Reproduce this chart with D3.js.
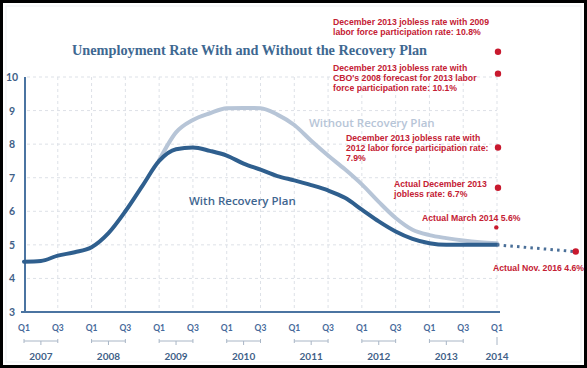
<!DOCTYPE html>
<html><head><meta charset="utf-8">
<script src="https://cdn.jsdelivr.net/npm/d3@7"></script>
<style>html,body{margin:0;padding:0;background:#fff;}svg{display:block;}</style>
</head><body>
<svg id="c" width="587" height="368"></svg>
<script>
// ---- data ----
const quarters = d3.range(0, 29); // Q1 2007 .. Q1 2014
const withPlan = [4.5,4.52,4.68,4.78,4.93,5.35,6.0,6.75,7.5,7.85,7.9,7.8,7.66,7.42,7.24,7.05,6.92,6.78,6.62,6.4,6.05,5.7,5.4,5.18,5.05,5.0,5.0,5.0,5.0];
const withoutStart = 8;
const withoutPlan = [7.52,8.35,8.72,8.92,9.07,9.08,9.07,8.88,8.57,8.1,7.66,7.25,6.8,6.28,5.8,5.45,5.29,5.2,5.13,5.08,5.05];
const yTicks = [3,4,5,6,7,8,9,10];
const years = ["2007","2008","2009","2010","2011","2012","2013","2014"];
const quarterLabels = ["Q1","Q3"];
const extension = [{q:28, v:5.0},{q:32.6, v:4.8}]; // dotted line to Nov 2016 (as drawn)
const redPoints = [
  {q:28, v:10.75, r:3.2, lines:["December 2013 jobless rate with 2009","labor force participation rate: 10.8%"], lx:333, ly:25},
  {q:28, v:10.1, r:3.2, lines:["December 2013 jobless rate with","CBO's 2008 forecast for 2013 labor","force participation rate: 10.1%"], lx:333, ly:71},
  {q:28, v:7.9, r:3.2, lines:["December 2013 jobless rate with","2012 labor force participation rate:","7.9%"], lx:346, ly:141},
  {q:28, v:6.7, r:3.2, lines:["Actual December 2013","jobless rate: 6.7%"], lx:394, ly:187},
  {q:27.9, v:5.52, r:2.2, lines:["Actual March 2014 5.6%"], lx:422, ly:221},
  {q:32.6, v:4.8, r:3.2, lines:["Actual Nov. 2016 4.6%"], lx:493, ly:271}
];

const svg = d3.select("#c");
const x = d3.scaleLinear().domain([0,28]).range([24,497]);
const y = d3.scaleLinear().domain([3,10]).range([312,77]);

// frame
svg.append("rect").attr("x",1.5).attr("y",1.5).attr("width",584).attr("height",365)
  .attr("fill","#fff").attr("stroke","#000").attr("stroke-width",3);
svg.append("rect").attr("x",6).attr("y",6).attr("width",575).attr("height",356)
  .attr("fill","none").attr("stroke","#eef0f3").attr("stroke-width",1);

// grid
const grid = svg.append("g");
yTicks.filter(t=>t>3).forEach(t=>{
  grid.append("line").attr("x1",x(0)+3).attr("x2",x(28)).attr("y1",y(t)).attr("y2",y(t))
    .attr("stroke","#dde1e7").attr("stroke-width",1).attr("stroke-dasharray","3,3");
});
d3.range(2,29,2).forEach(q=>{
  grid.append("line").attr("x1",x(q)).attr("x2",x(q)).attr("y1",y(10)).attr("y2",y(3))
    .attr("stroke","#dde1e7").attr("stroke-width",1).attr("stroke-dasharray","3,3");
});

// title
svg.append("text").attr("x",72).attr("y",55).text("Unemployment Rate With and Without the Recovery Plan")
  .attr("font-family","Liberation Serif, serif").attr("font-weight","bold").attr("font-size",14.5)
  .attr("fill","#3e6891").attr("textLength",355).attr("lengthAdjust","spacingAndGlyphs");

// y labels
yTicks.forEach(t=>{
  svg.append("text").attr("x",12).attr("y",y(t)+4).attr("text-anchor","middle").text(t)
    .attr("font-family","Lato, sans-serif").attr("font-weight","bold").attr("font-size",10.5).attr("fill","#3f6188");
});

// axes
svg.append("line").attr("x1",x(0)+1).attr("x2",x(0)+1).attr("y1",y(10)).attr("y2",y(3))
  .attr("stroke","#4b74a1").attr("stroke-width",2);
svg.append("line").attr("x1",x(0)-3).attr("x2",x(28)+3).attr("y1",y(3)).attr("y2",y(3))
  .attr("stroke","#4b74a1").attr("stroke-width",2);

// x labels
const xl = svg.append("g").attr("font-family","Lato, sans-serif").attr("font-weight","bold").attr("fill","#46699a");
quarters.filter(q=>q%2===0).forEach(q=>{
  xl.append("text").attr("x",x(q)).attr("y",331).attr("text-anchor","middle").attr("font-size",8.5)
    .text(quarterLabels[(q/2)%2]);
});
years.forEach((yr,i)=>{
  const q0 = i*4, q1 = Math.min(i*4+2, 28);
  const mid = i===7 ? x(q0) : (x(q0)+x(q1))/2;
  const br = svg.append("g").attr("stroke","#a9b6c6").attr("stroke-width",1);
  if(i<7){
    br.append("line").attr("x1",x(q0)).attr("x2",x(q1)).attr("y1",341).attr("y2",341);
    br.append("line").attr("x1",x(q0)).attr("x2",x(q0)).attr("y1",339).attr("y2",343);
    br.append("line").attr("x1",x(q1)).attr("x2",x(q1)).attr("y1",339).attr("y2",343);
    br.append("line").attr("x1",mid).attr("x2",mid).attr("y1",341).attr("y2",345);
  } else {
    br.append("line").attr("x1",mid).attr("x2",mid).attr("y1",337).attr("y2",345);
  }
  svg.append("text").attr("x",mid).attr("y",360).attr("text-anchor","middle").text(yr)
    .attr("font-family","Lato, sans-serif").attr("font-weight","bold").attr("font-size",10).attr("fill","#3f6188");
});

// lines
const line = d3.line().x(d=>x(d.q)).y(d=>y(d.v)).curve(d3.curveMonotoneX);
const wo = withoutPlan.map((v,i)=>({q:i+withoutStart, v}));
const wp = withPlan.map((v,i)=>({q:quarters[i], v}));
svg.append("path").datum(wo).attr("d",line).attr("fill","none").attr("stroke","#b7c5d7").attr("stroke-width",4).attr("stroke-linecap","round");
svg.append("path").datum(wp).attr("d",line).attr("fill","none").attr("stroke","#2f5f8e").attr("stroke-width",4).attr("stroke-linecap","round");

// dotted extension (x beyond Q1 2014 compressed as drawn)
const xe = q => q<=28 ? x(q) : x(28) + (q-28)*16.9;
svg.append("path").datum(extension).attr("d",d3.line().x(d=>xe(d.q)).y(d=>y(d.v)))
  .attr("fill","none").attr("stroke","#4a6f98").attr("stroke-width",3).attr("stroke-dasharray","2.5,4.2");

// series labels
svg.append("text").attr("x",309).attr("y",127).text("Without Recovery Plan")
  .attr("font-family","Open Sans, sans-serif").attr("font-weight",600).attr("font-size",11.5).attr("fill","#b7c5d7");
svg.append("text").attr("x",189).attr("y",205).text("With Recovery Plan")
  .attr("font-family","Open Sans, sans-serif").attr("font-weight",600).attr("font-size",11.5).attr("fill","#3f6690");

// red annotations
redPoints.forEach(p=>{
  svg.append("circle").attr("cx",xe(p.q)+1).attr("cy",y(p.v)).attr("r",p.r).attr("fill","#c8192e");
  const t = svg.append("text").attr("font-family","Liberation Sans, Arial, sans-serif").attr("font-weight","bold")
    .attr("font-size",8.7).attr("fill","#c42033");
  p.lines.forEach((s,i)=>t.append("tspan").attr("x",p.lx).attr("y",p.ly+i*10).text(s));
});
</script>
</body></html>
